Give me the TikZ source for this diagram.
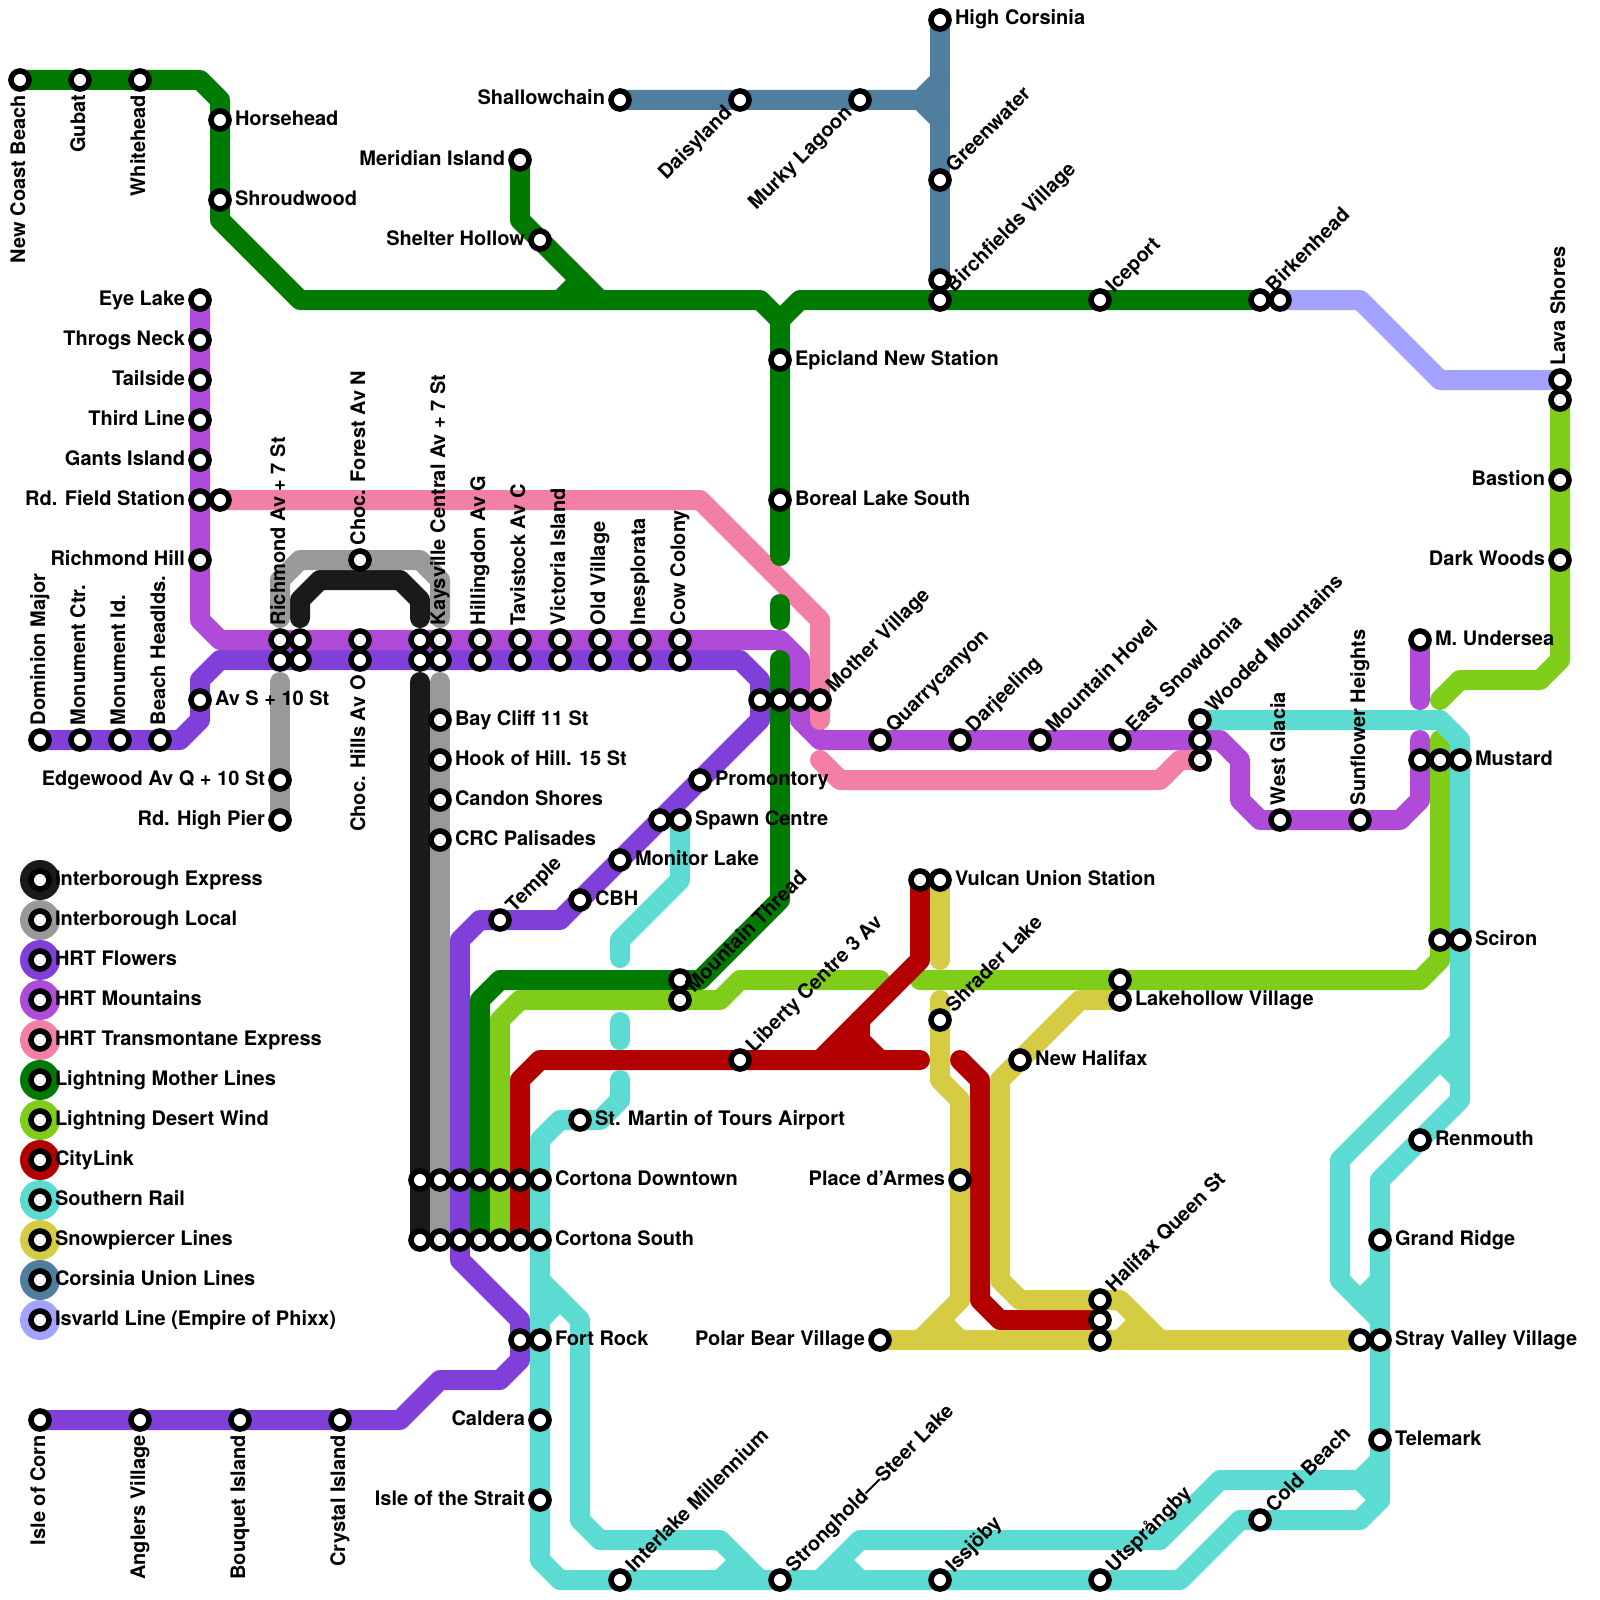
\documentclass[tikz,border=0pt]{standalone}
\usepackage{fontspec}
\setmainfont{TeX Gyre Heros}
\usetikzlibrary{calc}
\definecolor{cExpress}{HTML}{1A1A1A}
\definecolor{cLocal}{HTML}{999999}
\definecolor{cFlowers}{HTML}{7F3FD8}
\definecolor{cMount}{HTML}{B04AD8}
\definecolor{cTrans}{HTML}{F47FA6}
\definecolor{cMother}{HTML}{007A00}
\definecolor{cDesert}{HTML}{7FCC19}
\definecolor{cCity}{HTML}{B30000}
\definecolor{cSouth}{HTML}{5CDBD3}
\definecolor{cSnow}{HTML}{D5CC44}
\definecolor{cCors}{HTML}{4F7E9E}
\definecolor{cIsv}{HTML}{A3A3FF}
\tikzset{
  rail/.style={line width=20pt,line cap=round,line join=round},
  stn/.style={circle,draw=black,fill=white,line width=5.6pt,minimum size=18pt,inner sep=0pt,outer sep=0pt},
  lbl/.style={inner sep=0pt,outer sep=0pt,font=\fontsize{20}{24}\selectfont\bfseries,text=black},
  legdot/.style={circle,minimum size=40pt,inner sep=0pt,outer sep=0pt}
}
\newcommand\labE[2]{\node[lbl,anchor=base west] (t-#1) at ($(#1)+(15pt,-5pt)$) {#2};}
\newcommand\labW[2]{\node[lbl,anchor=base east] (t-#1) at ($(#1)+(-15pt,-5pt)$) {#2};}
\newcommand\labN[2]{\node[lbl,rotate=90,anchor=base west] (t-#1) at ($(#1)+(5pt,15pt)$) {#2};}
\newcommand\labS[2]{\node[lbl,rotate=90,anchor=base east] (t-#1) at ($(#1)+(5pt,-15pt)$) {#2};}
\newcommand\labNE[2]{\node[lbl,rotate=45,anchor=base west] (t-#1) at ($(#1)+(14pt,7pt)$) {#2};}
\newcommand\labSW[2]{\node[lbl,rotate=45,anchor=base east] (t-#1) at ($(#1)+(-7pt,-14pt)$) {#2};}
\newcommand\stationlist{newcoast/1/4,gubat/4/4,whitehead/7/4,horsehead/11/6,shroudwood/11/10,%
shallow/31/5,daisy/37/5,murky/43/5,highcors/47/1,greenwater/47/9,birchA/47/14,birchB/47/15,iceport/55/15,birkA/63/15,birkB/64/15,%
meridian/26/8,shelter/27/12,epicland/39/18,boreal/39/25,%
eye/10/15,throgs/10/17,tailside/10/19,third/10/21,gants/10/23,fieldA/10/25,fieldB/11/25,richhill/10/28,%
chocN/18/28,%
mA/14/32,mB/15/32,mC/18/32,mD/21/32,mE/22/32,mF/24/32,mG/26/32,mH/28/32,mI/30/32,mJ/32/32,mK/34/32,%
fA/14/33,fB/15/33,fC/18/33,fD/21/33,fE/22/33,fF/24/33,fG/26/33,fH/28/33,fI/30/33,fJ/32/33,fK/34/33,%
dominion/2/37,monctr/4/37,monid/6/37,beach/8/37,avs/10/35,edgewood/14/39,highpier/14/41,%
baycliff/22/36,hook/22/38,candon/22/40,crc/22/42,%
rowA/38/35,rowB/39/35,rowC/40/35,mother/41/35,%
promontory/35/39,spawnA/33/41,spawnB/34/41,monitor/31/43,cbh/29/45,temple/25/46,%
thread/34/49,threadB/34/50,liberty/37/53,stmartin/29/56,%
cdA/21/59,cdB/22/59,cdC/23/59,cdD/24/59,cdE/25/59,cdF/26/59,cdG/27/59,%
csA/21/62,csB/22/62,csC/23/62,csD/24/62,csE/25/62,csF/26/62,csG/27/62,%
fortA/26/67,fortB/27/67,caldera/27/71,strait/27/75,%
corn/2/71,anglers/7/71,bouquet/12/71,crystal/17/71,%
interlake/31/79,stronghold/39/79,issjoby/47/79,utspr/55/79,cold/63/76,%
telemark/69/72,strayA/68/67,strayB/69/67,grand/69/62,renmouth/71/57,%
scironA/72/47,scironB/73/47,mustA/71/38,mustB/72/38,mustC/73/38,undersea/71/32,%
glacia/64/41,sunflower/68/41,woodA/60/36,woodB/60/37,woodC/60/38,snowdonia/56/37,hovel/52/37,darjeeling/48/37,quarry/44/37,%
vulcanA/46/44,vulcanB/47/44,shrader/47/51,lakeA/56/49,lakeB/56/50,newhal/51/53,place/48/59,%
halA/55/65,halB/55/66,halC/55/67,polar/44/67,%
lavaA/78/19,lavaB/78/20,bastion/78/24,darkwoods/78/28}
\begin{document}
\begin{tikzpicture}[x=20pt,y=-20pt]
\useasboundingbox (0,0) rectangle (80,80);
\fill[white] (0,0) rectangle (80,80);
\foreach \n/\x/\y in \stationlist {\coordinate (\n) at (\x,\y);}
% Interborough Express
\draw[rail,cExpress] (15,30.9) -- (15,30) -- (16,29) -- (20,29) -- (21,30) -- (21,30.9);
\draw[rail,cExpress] (21,34.1) -- (cdA) -- (csA);
% Interborough Local
\draw[rail,cLocal] (14,30.9) -- (14,29) -- (15,28) -- (chocN) -- (21,28) -- (22,29) -- (22,30.9);
\draw[rail,cLocal] (14,34.1) -- (edgewood) -- (highpier);
\draw[rail,cLocal] (22,34.1) -- (baycliff) -- (hook) -- (candon) -- (crc) -- (cdB) -- (csB);
% HRT Flowers
\draw[rail,cFlowers] (dominion) -- (monctr) -- (monid) -- (beach) -- (9,37) -- (10,36) -- (avs) -- (10,34) -- (11,33) -- (fA) -- (fK) -- (37,33) -- (38,34) -- (rowA) -- (38,36) -- (promontory) -- (spawnA) -- (monitor) -- (cbh) -- (28,46) -- (temple) -- (24,46) -- (23,47) -- (cdC) -- (csC) -- (23,63) -- (26,66) -- (fortA) -- (26,68) -- (25,69) -- (22,69) -- (20,71) -- (crystal) -- (bouquet) -- (anglers) -- (corn);
% HRT Mountains
\draw[rail,cMount] (eye) -- (throgs) -- (tailside) -- (third) -- (gants) -- (fieldA) -- (richhill) -- (10,31) -- (11,32) -- (mA) -- (mK) -- (39,32) -- (40,33) -- (rowC) -- (40,36) -- (41,37) -- (quarry) -- (darjeeling) -- (hovel) -- (snowdonia) -- (woodB) -- (61,37) -- (62,38) -- (62,40) -- (63,41) -- (glacia) -- (sunflower) -- (70,41) -- (71,40) -- (mustA) -- (71,37);
\draw[rail,cMount] (undersea) -- (71,35);
% HRT Transmontane Express
\draw[rail,cTrans] (fieldB) -- (35,25) -- (41,31) -- (mother) -- (41,36);
\draw[rail,cTrans] (41,38) -- (42,39) -- (58,39) -- (59,38) -- (woodC);
% Lightning Mother Lines
\draw[rail,cMother] (newcoast) -- (gubat) -- (whitehead) -- (10,4) -- (11,5) -- (horsehead) -- (shroudwood) -- (11,11) -- (15,15) -- (38,15) -- (39,16) -- (epicland) -- (boreal) -- (39,27.8);
\draw[rail,cMother] (39,30.2) -- (39,31);
\draw[rail,cMother] (39,33) -- (rowB) -- (39,45) -- (35,49) -- (thread) -- (25,49) -- (24,50) -- (cdD) -- (csD);
\draw[rail,cMother] (39,16) -- (40,15) -- (birchB) -- (iceport) -- (birkA);
\draw[rail,cMother] (meridian) -- (26,11) -- (shelter) -- (30,15);
\draw[rail,cMother] (29,14) -- (28,15);
% Lightning Desert Wind
\draw[rail,cDesert] (lavaB) -- (bastion) -- (darkwoods) -- (78,33) -- (77,34) -- (73,34) -- (72,35);
\draw[rail,cDesert] (72,37) -- (mustB) -- (scironA) -- (72,48) -- (71,49) -- (lakeA) -- (46,49);
\draw[rail,cDesert] (44,49) -- (37,49) -- (36,50) -- (threadB) -- (26,50) -- (25,51) -- (cdE) -- (csE);
% CityLink
\draw[rail,cCity] (csF) -- (cdF) -- (26,54) -- (27,53) -- (liberty) -- (46,53);
\draw[rail,cCity] (vulcanA) -- (46,48) -- (41,53);
\draw[rail,cCity] (43,51) -- (43,52) -- (44,53);
\draw[rail,cCity] (43,52) -- (42,53);
\draw[rail,cCity] (48,53) -- (49,54) -- (49,65) -- (50,66) -- (halB);
% Southern Rail
\draw[rail,cSouth] (spawnB) -- (34,44) -- (31,47) -- (31,47.9);
\draw[rail,cSouth] (31,51.1) -- (31,52);
\draw[rail,cSouth] (31,54) -- (31,55) -- (30,56) -- (stmartin) -- (28,56) -- (27,57) -- (cdG) -- (csG) -- (fortB) -- (caldera) -- (strait) -- (27,78) -- (28,79) -- (interlake) -- (stronghold) -- (issjoby) -- (utspr) -- (59,79) -- (62,76) -- (cold) -- (68,76) -- (69,75) -- (telemark) -- (strayB) -- (grand) -- (69,59) -- (renmouth) -- (73,55) -- (scironB) -- (mustC) -- (73,37) -- (72,36) -- (woodA);
\draw[rail,cSouth] (27,64) -- (29,66) -- (29,76) -- (30,77) -- (36,77) -- (38,79);
\draw[rail,cSouth] (28,65) -- (27,66);
\draw[rail,cSouth] (37,78) -- (36,79);
\draw[rail,cSouth] (69,73) -- (68,74) -- (61,74) -- (58,77) -- (43,77) -- (41,79);
\draw[rail,cSouth] (68,74) -- (69,75);
\draw[rail,cSouth] (42,78) -- (43,79);
\draw[rail,cSouth] (69,66) -- (67,64) -- (67,58) -- (73,52);
\draw[rail,cSouth] (68,65) -- (69,64);
\draw[rail,cSouth] (72,53) -- (73,54);
% Snowpiercer Lines
\draw[rail,cSnow] (vulcanB) -- (47,48);
\draw[rail,cSnow] (47,50) -- (shrader) -- (47,54) -- (48,55) -- (place) -- (48,65) -- (46,67);
\draw[rail,cSnow] (polar) -- (halC) -- (strayA);
\draw[rail,cSnow] (47,66) -- (48,67);
\draw[rail,cSnow] (lakeB) -- (54,50) -- (newhal) -- (50,54) -- (50,64) -- (51,65) -- (halA) -- (56,65) -- (58,67);
\draw[rail,cSnow] (57,66) -- (56,67);
% Corsinia Union Lines
\draw[rail,cCors] (shallow) -- (daisy) -- (murky) -- (46,5) -- (47,6);
\draw[rail,cCors] (46,5) -- (47,4);
\draw[rail,cCors] (highcors) -- (greenwater) -- (birchA);
% Isvarld Line
\draw[rail,cIsv] (birkB) -- (68,15) -- (72,19) -- (lavaA);
% Legend
\foreach \i/\c in {0/cExpress,1/cLocal,2/cFlowers,3/cMount,4/cTrans,5/cMother,6/cDesert,7/cCity,8/cSouth,9/cSnow,10/cCors,11/cIsv}{
  \coordinate (lg\i) at (2,44+2*\i);
  \node[legdot,fill=\c] (ld\i) at (lg\i) {};
  \node[stn] (lr\i) at (lg\i) {};
}
% Stations
\foreach \n/\x/\y in \stationlist {\node[stn] (n-\n) at (\n) {};}
% Labels
\foreach \i/\t in {0/Interborough Express,1/Interborough Local,2/HRT Flowers,3/HRT Mountains,4/HRT Transmontane Express,5/Lightning Mother Lines,6/Lightning Desert Wind,7/CityLink,8/Southern Rail,9/Snowpiercer Lines,10/Corsinia Union Lines,11/Isvarld Line (Empire of Phixx)}{
  \node[lbl,anchor=base west] (lt\i) at ($(lg\i)+(15pt,-5pt)$) {\t};
}
\labS{newcoast}{New Coast Beach}
\labS{gubat}{Gubat}
\labS{whitehead}{Whitehead}
\labE{horsehead}{Horsehead}
\labE{shroudwood}{Shroudwood}
\labW{shallow}{Shallowchain}
\labSW{daisy}{Daisyland}
\labSW{murky}{Murky Lagoon}
\labE{highcors}{High Corsinia}
\labNE{greenwater}{Greenwater}
\labNE{birchB}{Birchfields Village}
\labNE{iceport}{Iceport}
\labNE{birkA}{Birkenhead}
\labW{meridian}{Meridian Island}
\labW{shelter}{Shelter Hollow}
\labE{epicland}{Epicland New Station}
\labE{boreal}{Boreal Lake South}
\labW{eye}{Eye Lake}
\labW{throgs}{Throgs Neck}
\labW{tailside}{Tailside}
\labW{third}{Third Line}
\labW{gants}{Gants Island}
\labW{fieldA}{Rd. Field Station}
\labW{richhill}{Richmond Hill}
\labN{mA}{Richmond Av + 7 St}
\labN{chocN}{Choc. Forest Av N}
\labS{fC}{Choc. Hills Av O}
\labN{mE}{Kaysville Central Av + 7 St}
\labN{mF}{Hillingdon Av G}
\labN{mG}{Tavistock Av C}
\labN{mH}{Victoria Island}
\labN{mI}{Old Village}
\labN{mJ}{Inesplorata}
\labN{mK}{Cow Colony}
\labN{dominion}{Dominion Major}
\labN{monctr}{Monument Ctr.}
\labN{monid}{Monument Id.}
\labN{beach}{Beach Headlds.}
\labE{avs}{Av S + 10 St}
\labW{edgewood}{Edgewood Av Q + 10 St}
\labW{highpier}{Rd. High Pier}
\labE{baycliff}{Bay Cliff 11 St}
\labE{hook}{Hook of Hill. 15 St}
\labE{candon}{Candon Shores}
\labE{crc}{CRC Palisades}
\labE{promontory}{Promontory}
\labE{spawnB}{Spawn Centre}
\labE{monitor}{Monitor Lake}
\labE{cbh}{CBH}
\labNE{temple}{Temple}
\labNE{threadB}{Mountain Thread}
\labNE{liberty}{Liberty Centre 3 Av}
\labE{stmartin}{St. Martin of Tours Airport}
\labE{cdG}{Cortona Downtown}
\labE{csG}{Cortona South}
\labE{fortB}{Fort Rock}
\labW{caldera}{Caldera}
\labW{strait}{Isle of the Strait}
\labS{corn}{Isle of Corn}
\labS{anglers}{Anglers Village}
\labS{bouquet}{Bouquet Island}
\labS{crystal}{Crystal Island}
\labNE{interlake}{Interlake Millennium}
\labNE{stronghold}{Stronghold—Steer Lake}
\labNE{issjoby}{Issjöby}
\labNE{utspr}{Utsprångby}
\labNE{cold}{Cold Beach}
\labE{telemark}{Telemark}
\labE{strayB}{Stray Valley Village}
\labE{grand}{Grand Ridge}
\labE{renmouth}{Renmouth}
\labE{scironB}{Sciron}
\labE{mustC}{Mustard}
\labE{undersea}{M. Undersea}
\labN{glacia}{West Glacia}
\labN{sunflower}{Sunflower Heights}
\labNE{woodA}{Wooded Mountains}
\labNE{snowdonia}{East Snowdonia}
\labNE{hovel}{Mountain Hovel}
\labNE{darjeeling}{Darjeeling}
\labNE{quarry}{Quarrycanyon}
\labNE{mother}{Mother Village}
\labE{vulcanB}{Vulcan Union Station}
\labNE{shrader}{Shrader Lake}
\labE{lakeB}{Lakehollow Village}
\labE{newhal}{New Halifax}
\labW{place}{Place d’Armes}
\labNE{halA}{Halifax Queen St}
\labW{polar}{Polar Bear Village}
\labN{lavaA}{Lava Shores}
\labW{bastion}{Bastion}
\labW{darkwoods}{Dark Woods}
\end{tikzpicture}
\end{document}
